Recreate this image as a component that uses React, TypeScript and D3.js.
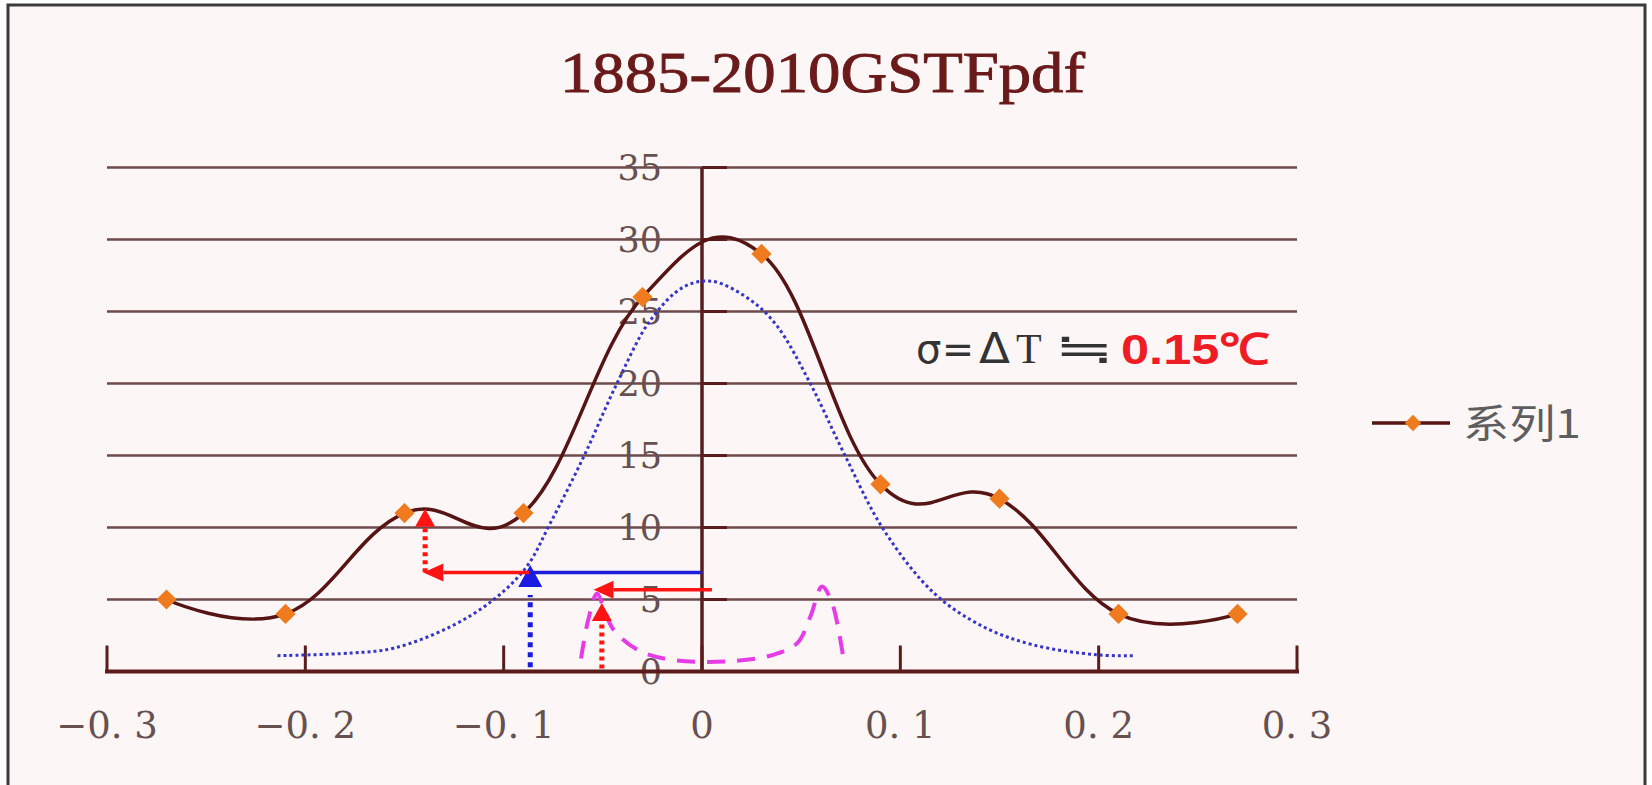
import React from 'react';
import * as d3 from 'd3';

// ---- data ----
const seriesName = '系列1';
const seriesX = [-0.27, -0.21, -0.15, -0.09, -0.03, 0.03, 0.09, 0.15, 0.21, 0.27];
const seriesY = [5, 4, 11, 11, 26, 29, 13, 12, 4, 4];

const normalX = [-0.214, -0.177, -0.1555, -0.127, -0.105, -0.0883, -0.0765, -0.0597, -0.0429, -0.026, -0.0093, 0.005, 0.0244, 0.0378, 0.0546, 0.0714, 0.0916, 0.117, 0.142, 0.167, 0.199, 0.2177];
const normalY = [1.1, 1.28, 1.62, 3.1, 5.0, 7.3, 10.3, 14.9, 20.0, 24.4, 26.7, 27.1, 25.8, 24.0, 20.0, 15.2, 9.84, 5.44, 3.1, 1.85, 1.16, 1.09];

const uX = [-0.061, -0.0575, -0.053, -0.0495, -0.0446, -0.031, -0.0143, 0.0126, 0.036, 0.048, 0.0546, 0.0605, 0.0656, 0.0714];
const uY = [0.9, 3.5, 5.4, 4.4, 2.9, 1.4, 0.8, 0.7, 1.16, 1.97, 3.8, 5.9, 4.75, 0.8];

const xTicks = [-0.3, -0.2, -0.1, 0, 0.1, 0.2, 0.3];
const xTickLabels = ['−0. 3', '−0. 2', '−0. 1', '0', '0. 1', '0. 2', '0. 3'];
const yTicks = [0, 5, 10, 15, 20, 25, 30, 35];

// annotation arrows in data units: [x1, y1, x2, y2]
const redDottedArrows = [
  [-0.1396, 6.9, -0.1396, 11.3],
  [-0.0505, 0.2, -0.0505, 4.75],
];
const redSolidArrows = [
  [-0.087, 6.88, -0.1405, 6.88],
  [0.005, 5.67, -0.0547, 5.67],
];
const blueSolidLines = [[-0.087, 6.88, 0, 6.88]];
const blueDottedArrows = [[-0.0866, 0.3, -0.0866, 7.4]];

const titleText = '1885-2010GSTFpdf';
const noteLeftChars = ['σ', '=', 'Δ', 'T', '≒'];
const noteRight = '0.15℃';

// ---- layout ----
const W = 1652;
const H = 785;
const x = d3.scaleLinear().domain([-0.3, 0.3]).range([107, 1297]);
const y = d3.scaleLinear().domain([0, 35]).range([671.5, 167.5]);

const AXIS = '#5a1c1c';
const GRID = '#6e4a4a';
const LABEL = '#665050';
const LINE = '#561414';
const MARK = '#f07a1e';

// per-glyph style of the note (font, size, left position, forced width)
const noteGlyphStyle = [
  { f: "'DejaVu Sans', sans-serif", s: 40, x: 916, w: 0 },
  { f: "'DejaVu Sans', sans-serif", s: 40, x: 942, w: 32 },
  { f: "'DejaVu Sans', sans-serif", s: 42, x: 979, w: 31 },
  { f: "'Liberation Serif', serif", s: 42, x: 1016, w: 0 },
  { f: "'DejaVu Sans', sans-serif", s: 42, x: 1054, w: 60 },
];

function arrowHead(x1: number, y1: number, x2: number, y2: number, len: number, half: number) {
  const dx = x2 - x1, dy = y2 - y1;
  const L = Math.hypot(dx, dy);
  const ux = dx / L, uy = dy / L;
  const bx = x2 - ux * len, by = y2 - uy * len;
  const px = -uy, py = ux;
  return {
    base: [bx, by],
    pts: `${x2},${y2} ${bx + px * half},${by + py * half} ${bx - px * half},${by - py * half}`,
  };
}

export default function App() {
  const seriesPts: [number, number][] = seriesX.map((v, i) => [x(v), y(seriesY[i])]);
  const normalPts: [number, number][] = normalX.map((v, i) => [x(v), y(normalY[i])]);
  const uPts: [number, number][] = uX.map((v, i) => [x(v), y(uY[i])]);

  const smooth = d3.line().curve(d3.curveCardinal.tension(-0.2));
  const smoothCR = d3.line().curve(d3.curveCatmullRom.alpha(0.5));
  const diamond = d3.symbol().type(d3.symbolDiamond2).size(260)();
  const diamondSmall = d3.symbol().type(d3.symbolDiamond2).size(170)();

  return (
    <div style={{ position: 'absolute', left: 0, top: 0 }}>
      <svg width={W} height={H} style={{ display: 'block' }}>
        <rect x={0} y={0} width={W} height={H} fill="#ffffff" />
        <rect x={8} y={5} width={1637} height={800} fill="#fdf6f6" stroke="#3a3a3a" strokeWidth={3} />

        {/* title */}
        <text x={560} y={92} fontFamily="'Liberation Serif', serif" fontSize={57} fill="#6a1a1a"
          stroke="#6a1a1a" strokeWidth={0.9}
          textLength={525} lengthAdjust="spacingAndGlyphs">{titleText}</text>

        {/* gridlines */}
        {yTicks.filter(t => t > 0).map(t => (
          <line key={'g' + t} x1={x(-0.3)} x2={x(0.3)} y1={y(t)} y2={y(t)} stroke={GRID} strokeWidth={2.5} />
        ))}

        {/* y tick labels */}
        {yTicks.map(t => (
          <text key={'yl' + t} x={662} y={y(t)} dy="0.36em" textAnchor="end"
            fontFamily="'DejaVu Serif', serif" fontSize={35} fill={LABEL}>{t}</text>
        ))}

        {/* y axis */}
        <line x1={x(0)} x2={x(0)} y1={y(0)} y2={y(35)} stroke={AXIS} strokeWidth={3.5} />
        {yTicks.filter(t => t > 0).map(t => (
          <line key={'yt' + t} x1={x(0)} x2={x(0) + 25} y1={y(t)} y2={y(t)} stroke={AXIS} strokeWidth={3} />
        ))}

        {/* x axis */}
        <line x1={x(-0.3) - 2} x2={x(0.3) + 2} y1={y(0)} y2={y(0)} stroke={AXIS} strokeWidth={4} />
        {xTicks.map(t => (
          <line key={'xt' + t} x1={x(t)} x2={x(t)} y1={y(0)} y2={y(0) - 26} stroke={AXIS} strokeWidth={3} />
        ))}
        {xTicks.map((t, i) => (
          <text key={'xl' + t} x={x(t)} y={738} textAnchor="middle"
            fontFamily="'DejaVu Serif', serif" fontSize={37} fill={LABEL}>{xTickLabels[i]}</text>
        ))}

        {/* normal fit (blue dotted) */}
        <path d={smoothCR(normalPts) || ''} fill="none" stroke="#3535c8" strokeWidth={3} strokeDasharray="3 3" />

        {/* U-shaped pdf (magenta dashed) */}
        <path d={smoothCR(uPts) || ''} fill="none" stroke="#e63ce6" strokeWidth={4} strokeDasharray="18 12" />

        {/* series line */}
        <path d={smooth(seriesPts) || ''} fill="none" stroke={LINE} strokeWidth={3.5} />
        {seriesPts.map((p, i) => (
          <path key={'m' + i} d={diamond || ''} transform={`translate(${p[0]},${p[1]})`} fill={MARK} />
        ))}

        {/* blue annotations */}
        {blueSolidLines.map((a, i) => (
          <line key={'bs' + i} x1={x(a[0])} y1={y(a[1])} x2={x(a[2])} y2={y(a[3])} stroke="#1e1ed8" strokeWidth={3.5} />
        ))}
        {blueDottedArrows.map((a, i) => {
          const x1 = x(a[0]), y1 = y(a[1]), x2 = x(a[2]), y2 = y(a[3]);
          const h = arrowHead(x1, y1, x2, y2, 22, 12);
          return (
            <g key={'bd' + i}>
              <line x1={x1} y1={y1} x2={h.base[0]} y2={h.base[1] + 8} stroke="#1a1ae0" strokeWidth={5} strokeDasharray="5 5" />
              <polygon points={h.pts} fill="#1a1ae0" />
            </g>
          );
        })}

        {/* red annotations */}
        {redSolidArrows.map((a, i) => {
          const x1 = x(a[0]), y1 = y(a[1]), x2 = x(a[2]), y2 = y(a[3]);
          const h = arrowHead(x1, y1, x2, y2, 20, 9);
          return (
            <g key={'rs' + i}>
              <line x1={x1} y1={y1} x2={h.base[0]} y2={h.base[1]} stroke="#ff1414" strokeWidth={3.5} />
              <polygon points={h.pts} fill="#ff1414" />
            </g>
          );
        })}
        {redDottedArrows.map((a, i) => {
          const x1 = x(a[0]), y1 = y(a[1]), x2 = x(a[2]), y2 = y(a[3]);
          const h = arrowHead(x1, y1, x2, y2, 18, 10);
          return (
            <g key={'rd' + i}>
              <line x1={x1} y1={y1} x2={h.base[0]} y2={h.base[1]} stroke="#ff1414" strokeWidth={5} strokeDasharray="4 4" />
              <polygon points={h.pts} fill="#ff1414" />
            </g>
          );
        })}

        {/* note */}
        {noteLeftChars.map((c, i) => {
          const st = noteGlyphStyle[i];
          return st.w > 0 ? (
            <text key={'n' + i} x={st.x} y={363} fill="#333333" fontFamily={st.f} fontSize={st.s}
              textLength={st.w} lengthAdjust="spacingAndGlyphs">{c}</text>
          ) : (
            <text key={'n' + i} x={st.x} y={363} fill="#333333" fontFamily={st.f} fontSize={st.s}>{c}</text>
          );
        })}
        <text x={1121} y={364} fontFamily="'Liberation Sans', Arial, sans-serif" fontWeight="bold" fontSize={43} fill="#ee1c24"
          textLength={149} lengthAdjust="spacingAndGlyphs">{noteRight}</text>

        {/* legend */}
        <line x1={1372} x2={1450} y1={423} y2={423} stroke={LINE} strokeWidth={3.5} />
        <path d={diamondSmall || ''} transform="translate(1413,423)" fill={MARK} />
        <text x={1463} y={438} fontFamily="'Noto Sans CJK SC', sans-serif" fontSize={40} fill="#5e5e5e"
          textLength={118} lengthAdjust="spacingAndGlyphs">{seriesName}</text>
      </svg>
    </div>
  );
}
